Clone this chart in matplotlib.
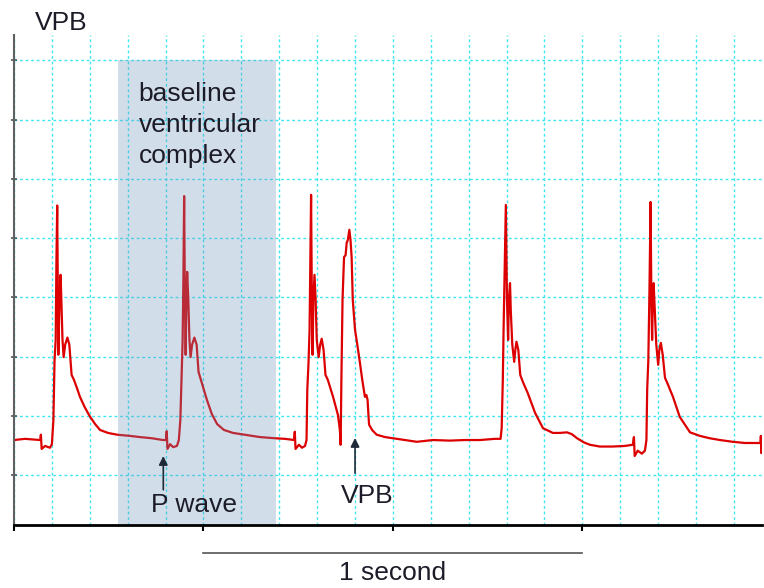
import numpy as np
import matplotlib
matplotlib.use("Agg")
import matplotlib.pyplot as plt

plt.rcParams['font.family'] = ['Liberation Sans', 'DejaVu Sans']

# ECG trace: time (s) and amplitude (grid units)
t = [0.000, 0.029, 0.069, 0.071, 0.073, 0.082, 0.095, 0.100, 0.104, 0.107,
     0.110, 0.112, 0.114, 0.116, 0.117, 0.120, 0.123, 0.125, 0.128, 0.131,
     0.135, 0.141, 0.146, 0.152, 0.158, 0.166, 0.174, 0.187, 0.201, 0.214,
     0.227, 0.248, 0.272, 0.306, 0.332, 0.364, 0.393, 0.401, 0.403, 0.405,
     0.412, 0.420, 0.430, 0.435, 0.439, 0.442, 0.445, 0.447, 0.449, 0.451,
     0.453, 0.455, 0.457, 0.460, 0.463, 0.466, 0.470, 0.476, 0.482, 0.487,
     0.493, 0.501, 0.509, 0.522, 0.536, 0.554, 0.578, 0.609, 0.649, 0.689,
     0.715, 0.739, 0.741, 0.743, 0.752, 0.760, 0.768, 0.772, 0.774, 0.777,
     0.780, 0.782, 0.784, 0.786, 0.788, 0.790, 0.793, 0.796, 0.799, 0.804,
     0.808, 0.812, 0.817, 0.822, 0.828, 0.842, 0.855, 0.860, 0.862, 0.864,
     0.867, 0.871, 0.875, 0.878, 0.881, 0.885, 0.888, 0.891, 0.894, 0.900,
     0.906, 0.913, 0.919, 0.926, 0.930, 0.933, 0.937, 0.945, 0.957, 0.979,
     1.000, 1.032, 1.063, 1.106, 1.150, 1.190, 1.230, 1.269, 1.284, 1.287,
     1.290, 1.292, 1.296, 1.298, 1.301, 1.304, 1.306, 1.309, 1.311, 1.315,
     1.320, 1.323, 1.326, 1.331, 1.336, 1.343, 1.356, 1.375, 1.396, 1.422,
     1.441, 1.459, 1.472, 1.486, 1.504, 1.520, 1.546, 1.580, 1.612, 1.633,
     1.636, 1.638, 1.646, 1.657, 1.665, 1.669, 1.671, 1.674, 1.677, 1.680,
     1.682, 1.684, 1.686, 1.688, 1.691, 1.695, 1.700, 1.703, 1.707, 1.712,
     1.718, 1.723, 1.739, 1.757, 1.784, 1.810, 1.836, 1.863, 1.897, 1.929,
     1.963, 1.970, 1.971, 1.972, 1.974]
v = [1.59, 1.61, 1.59, 1.68, 1.44, 1.49, 1.46, 1.52, 1.93, 2.94,
     3.28, 4.63, 5.55, 3.96, 3.03, 3.96, 4.38, 3.96, 3.28, 2.99,
     3.20, 3.32, 3.20, 2.69, 2.61, 2.47, 2.32, 2.14, 1.98, 1.86,
     1.76, 1.71, 1.68, 1.66, 1.64, 1.62, 1.59, 1.59, 1.74, 1.44,
     1.52, 1.47, 1.49, 1.59, 1.93, 2.61, 3.28, 4.29, 5.71, 3.96,
     3.03, 3.96, 4.43, 3.96, 3.28, 2.99, 3.20, 3.32, 3.20, 2.74,
     2.61, 2.44, 2.27, 2.03, 1.86, 1.76, 1.71, 1.68, 1.64, 1.62,
     1.61, 1.59, 1.73, 1.44, 1.51, 1.46, 1.49, 1.59, 2.44, 2.86,
     3.45, 4.63, 5.73, 3.96, 3.03, 3.96, 4.38, 3.96, 3.28, 2.99,
     3.20, 3.30, 3.11, 2.69, 2.61, 2.32, 2.01, 1.76, 1.51, 2.61,
     3.96, 4.68, 4.71, 4.92, 4.97, 5.14, 4.97, 4.68, 3.96, 3.45,
     3.20, 2.89, 2.61, 2.32, 2.35, 2.27, 1.85, 1.76, 1.68, 1.64,
     1.62, 1.59, 1.56, 1.59, 1.58, 1.59, 1.59, 1.61, 1.61, 1.79,
     2.61, 3.45, 4.80, 5.56, 3.96, 3.28, 3.96, 4.24, 3.78, 3.20,
     2.91, 3.11, 3.25, 3.11, 2.69, 2.57, 2.38, 2.05, 1.79, 1.71,
     1.71, 1.72, 1.69, 1.62, 1.55, 1.51, 1.48, 1.48, 1.49, 1.51,
     1.64, 1.32, 1.41, 1.36, 1.41, 1.59, 2.44, 2.94, 4.12, 5.61,
     3.96, 3.28, 3.96, 4.24, 3.78, 3.20, 2.86, 3.11, 3.23, 3.03,
     2.64, 2.57, 2.32, 1.98, 1.72, 1.66, 1.62, 1.59, 1.56, 1.54,
     1.54, 1.54, 1.66, 1.37, 1.51]

shade_span = (0.275, 0.691)
shade_top = 8.0
p_arrow = (0.394, 1.32, 0.75)     # x, tip, tail
vpb_arrow = (0.900, 1.625, 1.03)
scale_bar = (0.5, 1.5)

W, H = 764, 588
fig = plt.figure(figsize=(W / 100, H / 100), dpi=100)
ax = fig.add_axes([14 / W, (H - 525) / H, (762 - 14) / W, (525 - 35) / H])

xlim = (0.0, 1.974)
ylim = (0.155, 8.43)
ax.set_xlim(*xlim)
ax.set_ylim(*ylim)

ax.plot(t, v, color='#dd0000', lw=1.6, zorder=2.1, solid_joinstyle='round')

ymax_frac = (shade_top - ylim[0]) / (ylim[1] - ylim[0])
ax.axvspan(shade_span[0], shade_span[1], ymin=0, ymax=ymax_frac,
           color='#6c91bc', alpha=0.3, lw=0, zorder=2.2)

ax.set_xticks([0, 0.5, 1.0, 1.5])
ax.set_xticks(np.arange(0.1, 1.95, 0.1), minor=True)
ax.set_yticks(np.arange(1, 9))
ax.set_xticklabels([])
ax.set_yticklabels([])
ax.set_axisbelow(True)
ax.grid(True, which='both', axis='x', color='#3ee6f2', ls=(0, (2, 2)), lw=1.0)
ax.grid(True, which='major', axis='y', color='#3ee6f2', ls=(0, (2, 2)), lw=1.0)
ax.tick_params(axis='x', which='major', direction='out', length=4, width=1.5, color='black')
ax.tick_params(axis='x', which='minor', length=0)
ax.tick_params(axis='y', which='major', direction='inout', length=5, width=1.2, color='#555555')

for s in ['top', 'right']:
    ax.spines[s].set_visible(False)
ax.spines['bottom'].set_color('black')
ax.spines['bottom'].set_linewidth(2)
ax.spines['bottom'].set_zorder(3)
ax.spines['left'].set_color('#606060')
ax.spines['left'].set_linewidth(1.5)
ax.spines['left'].set_zorder(3)

tc = '#1c1c28'
fs = 19
fig.text(35 / W, 1 - 30 / H, 'VPB', fontsize=fs, color=tc, va='baseline', ha='left')
ax.text(0.329, 7.64, 'baseline\nventricular\ncomplex', fontsize=fs, color=tc,
        va='top', ha='left', linespacing=1.38, zorder=5)
ax.text(0.475, 0.375, 'P wave', fontsize=fs, color=tc, ha='center', va='baseline', zorder=5)
ax.text(0.931, 0.527, 'VPB', fontsize=fs, color=tc, ha='center', va='baseline', zorder=5)

for (ax_x, tip, tail) in [p_arrow, vpb_arrow]:
    ax.annotate('', xy=(ax_x, tip), xytext=(ax_x, tail),
                arrowprops=dict(arrowstyle='-|>', color='#1e2a38', lw=1.2,
                                mutation_scale=13, shrinkA=0, shrinkB=0),
                zorder=5)

ax.plot(scale_bar, [-0.31, -0.31], color='#555555', lw=1.2, clip_on=False)
ax.text(sum(scale_bar) / 2, -0.774, '1 second', fontsize=fs, color=tc,
        ha='center', va='baseline', clip_on=False)

fig.savefig('out.png', dpi=100)
